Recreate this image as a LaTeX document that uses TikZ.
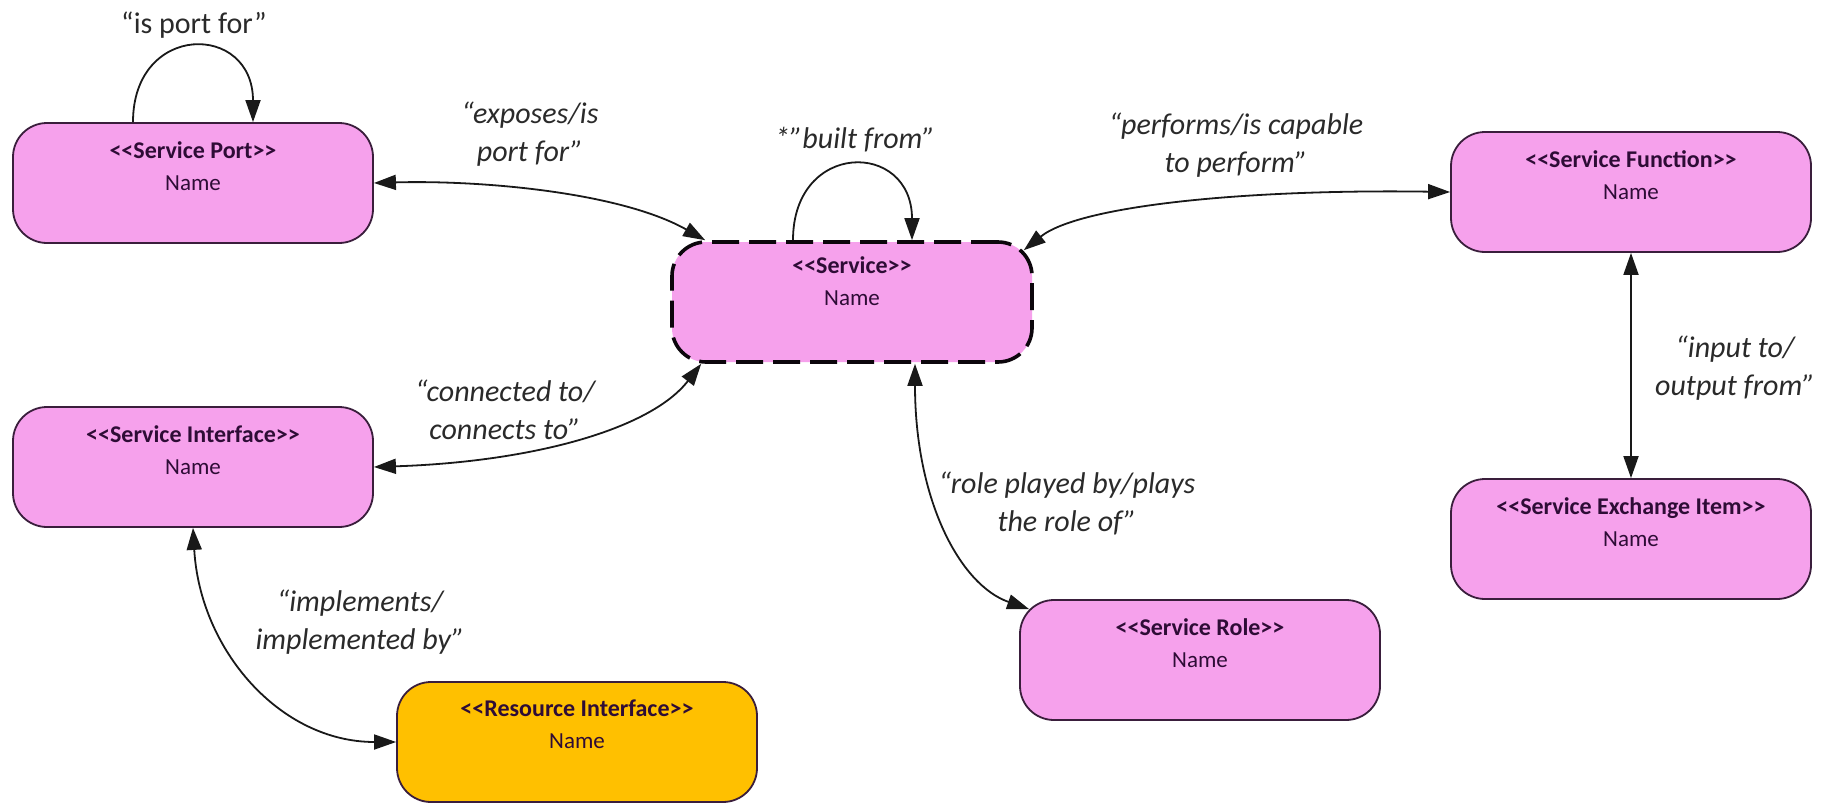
\documentclass[tikz,border=0pt]{standalone}
\usepackage{fontspec}
\setmainfont{Carlito}
\usetikzlibrary{arrows.meta,calc}

\definecolor{pinkfill}{HTML}{F6A1EC}
\definecolor{goldfill}{HTML}{FFC000}
\definecolor{boxline}{HTML}{3A1E3C}
\definecolor{boxtext}{HTML}{2E0C36}
\definecolor{labeltext}{HTML}{2A2A2A}

\tikzset{
  entity/.style={draw=boxline, line width=1.8pt, fill=pinkfill,
    rounded corners=34pt, minimum width=360pt, minimum height=120pt, inner sep=0pt},
  resource/.style={entity, fill=goldfill},
  core/.style={entity, draw=black!80!boxline, line width=3.6pt,
    dash pattern=on 27pt off 10pt},
  boxcaption/.style={anchor=north, align=center, inner sep=0pt, text=boxtext,
    font=\fontsize{23}{32}\selectfont},
  rellabel/.style={align=center, inner sep=0pt, text=labeltext,
    font=\fontsize{30}{38}\selectfont\itshape},
  tip/.tip={Triangle[length=22pt,width=15pt]},
  both/.style={draw=black!90, line width=1.8pt, tip-tip},
  onto/.style={draw=black!90, line width=1.8pt, -tip},
}
% stereotype line: plain angle brackets, kept apart so they are not merged into guillemets
\newcommand{\stereo}[1]{{\fontsize{24}{32}\selectfont\bfseries <\kern0pt<#1>\kern0pt>}}

\begin{document}
\begin{tikzpicture}[x=1pt,y=-1pt]
  \useasboundingbox (0,0) rectangle (1829,803);
  \fill[white] (0,0) rectangle (1829,803);

  % entity boxes
  \node[entity]   (port)      at (193,183) {};
  \node[core]     (service)   at (852,302) {};
  \node[entity]   (function)  at (1631,192) {};
  \node[entity]   (exchange)  at (1631,539) {};
  \node[entity]   (interface) at (193,467) {};
  \node[entity]   (role)      at (1200,660) {};
  \node[resource] (resource)  at (577,742) {};

  % captions inside the boxes
  \node[boxcaption, yshift=-19pt] (port-t)      at (port.north)      {\stereo{Service Port}\\Name};
  \node[boxcaption, yshift=-16pt] (service-t)   at (service.north)   {\stereo{Service}\\Name};
  \node[boxcaption, yshift=-19pt] (function-t)  at (function.north)  {\stereo{Service Function}\\Name};
  \node[boxcaption, yshift=-19pt] (exchange-t)  at (exchange.north)  {\stereo{Service Exchange Item}\\Name};
  \node[boxcaption, yshift=-19pt] (interface-t) at (interface.north) {\stereo{Service Interface}\\Name};
  \node[boxcaption, yshift=-19pt] (role-t)      at (role.north)      {\stereo{Service Role}\\Name};
  \node[boxcaption, yshift=-19pt] (resource-t)  at (resource.north)  {\stereo{Resource Interface}\\Name};

  % anchor points on the boxes' outlines
  \coordinate (svc-tl) at ($(service.north west)+(35,0)$);
  \coordinate (svc-tr) at ($(service.north east)+(-10,10)$);
  \coordinate (svc-bl) at ($(service.south west)+(31,0)$);
  \coordinate (svc-b)  at ($(service.south)+(63,0)$);
  \coordinate (role-tl) at ($(role.north west)+(10,10)$);

  % self relations
  \draw[onto] ($(port.north)+(-60,0)$)
      .. controls ($(port.north)+(-60,-100)$) and ($(port.north)+(60,-100)$)
      .. ($(port.north)+(60,0)$);
  \draw[onto] ($(service.north)+(-59,0)$)
      .. controls ($(service.north)+(-59,-100)$) and ($(service.north)+(60,-100)$)
      .. ($(service.north)+(60,0)$);

  % relations between entities
  \draw[both] (port.east) .. controls (480,180) and (620,192) .. (svc-tl);
  \draw[both] (svc-tr) .. controls (1080,205) and (1250,189) .. (function.west);
  \draw[both] (interface.east) .. controls (530,462) and (650,430) .. (svc-bl);
  \draw[both] (svc-b) .. controls (915,500) and (960,585) .. (role-tl);
  \draw[both] (function.south) -- (exchange.north);
  \draw[both] (interface.south) .. controls (200,650) and (280,742) .. (resource.west);

  % relation names
  \node[rellabel, font=\fontsize{30}{38}\selectfont\upshape] (l-port) at (194,25) {“is port for”};
  \node[rellabel] (l-expose)  at (530,134)  {“exposes/is\\port for”};
  \node[rellabel] (l-built)   at (855,140)  {*”built from”};
  \node[rellabel] (l-perform) at (1236,145) {“performs/is capable\\to perform”};
  \node[rellabel] (l-connect) at (505,410)  {“connected to/\\connects to”};
  \node[rellabel] (l-input)   at (1735,368) {“input to/\\output from”};
  \node[rellabel] (l-role)    at (1067,503) {“role played by/plays\\the role of”};
  \node[rellabel] (l-impl)    at (360,622)  {“implements/\\implemented by”};
\end{tikzpicture}
\end{document}
